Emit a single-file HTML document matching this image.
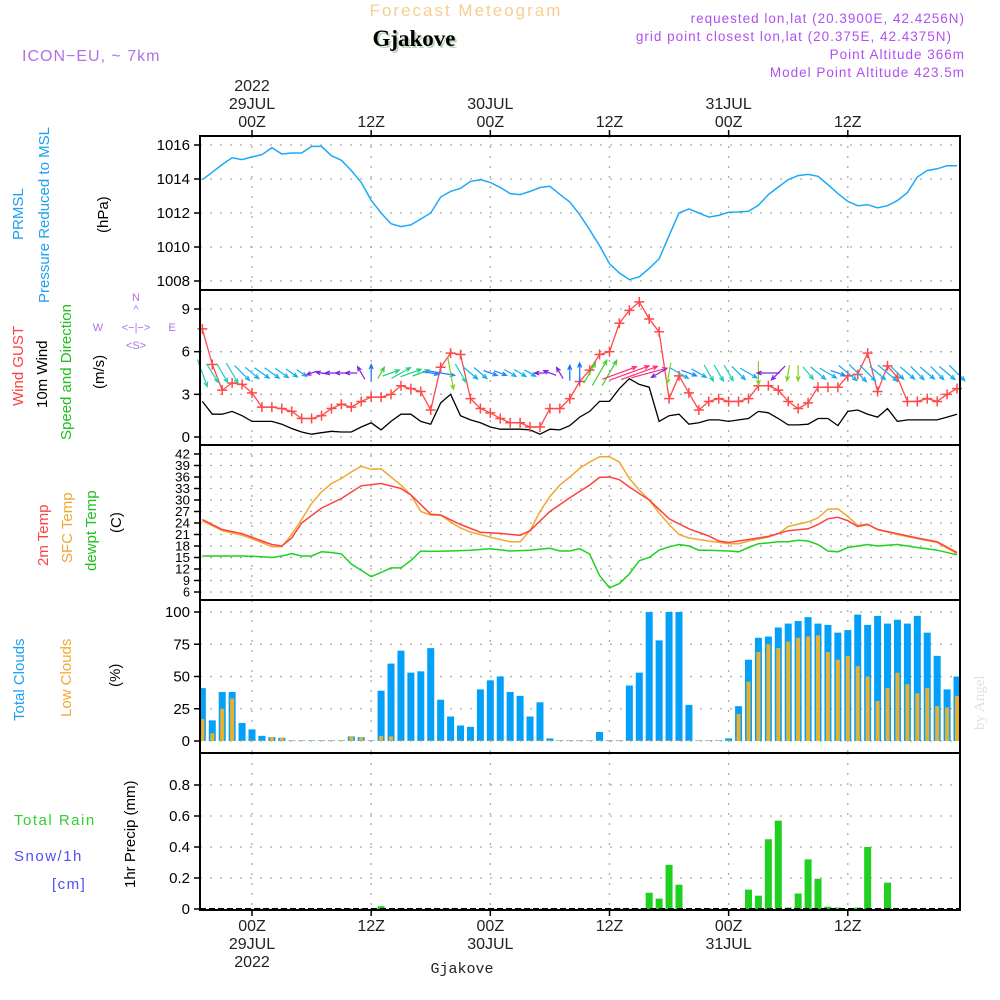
<!DOCTYPE html>
<html><head><meta charset="utf-8">
<style>
html,body{margin:0;padding:0;background:#fff;}
svg{display:block;font-family:"Liberation Sans",sans-serif;}
</style></head>
<body>
<svg id="chart" width="1000" height="1000" viewBox="0 0 1000 1000" xmlns="http://www.w3.org/2000/svg">
<g>
<text x="466" y="16" text-anchor="middle" font-size="17" fill="#f6cf90" letter-spacing="2">Forecast Meteogram</text>
<text x="416" y="48" text-anchor="middle" font-size="23" font-weight="bold" font-family="Liberation Serif,serif" fill="#bcd4bc">Gjakove</text>
<text x="414" y="46" text-anchor="middle" font-size="23" font-weight="bold" font-family="Liberation Serif,serif" fill="#000">Gjakove</text>
<text x="22" y="61" font-size="16" fill="#b070e8" letter-spacing="1">ICON−EU, ~ 7km</text>
<g font-size="13.5" fill="#b050f0" text-anchor="end" letter-spacing="1">
<text x="965" y="23">requested lon,lat (20.3900E, 42.4256N)</text>
<text x="952" y="41">grid point closest lon,lat (20.375E, 42.4375N)</text>
<text x="965" y="59">Point Altitude 366m</text>
<text x="965" y="77">Model Point Altitude 423.5m</text>
</g>
</g>
<g id="plots"></g>
<g font-size="15">
<text transform="translate(23,240) rotate(-90)" fill="#1ea0f0">PRMSL</text>
<text transform="translate(49,303) rotate(-90)" fill="#1ea0f0">Pressure Reduced to MSL</text>
<text transform="translate(108,233) rotate(-90)" fill="#000">(hPa)</text>
<text transform="translate(23,406) rotate(-90)" fill="#ff4040">Wind GUST</text>
<text transform="translate(47,408) rotate(-90)" fill="#000">10m Wind</text>
<text transform="translate(71,440) rotate(-90)" fill="#20c020">Speed and Direction</text>
<text transform="translate(104,389) rotate(-90)" fill="#000">(m/s)</text>
<g fill="#b070e8" font-size="11">
<text x="136" y="301" text-anchor="middle">N</text>
<text x="136" y="313" text-anchor="middle">^</text>
<text x="98" y="331" text-anchor="middle">W</text>
<text x="136" y="331" text-anchor="middle">&lt;−|−&gt;</text>
<text x="172" y="331" text-anchor="middle">E</text>
<text x="136" y="349" text-anchor="middle">&lt;S&gt;</text>
</g>
<text transform="translate(48,566) rotate(-90)" fill="#ff4040">2m Temp</text>
<text transform="translate(72,563) rotate(-90)" fill="#f0a830">SFC Temp</text>
<text transform="translate(96,571) rotate(-90)" fill="#20c020">dewpt Temp</text>
<text transform="translate(121,533) rotate(-90)" fill="#000">(C)</text>
<text transform="translate(24,721) rotate(-90)" fill="#1ea0f0">Total Clouds</text>
<text transform="translate(71,717) rotate(-90)" fill="#f0a830">Low Clouds</text>
<text transform="translate(120,687) rotate(-90)" fill="#000">(%)</text>
<text transform="translate(135,888) rotate(-90)" fill="#000">1hr Precip (mm)</text>
<text x="14" y="825" fill="#30d030" letter-spacing="1.5">Total  Rain</text>
<text x="14" y="861" fill="#5050f0" letter-spacing="1.5">Snow/1h</text>
<text x="52" y="889" fill="#5050f0" letter-spacing="1.5">[cm]</text>
</g>
<text transform="translate(984,730) rotate(-90)" font-size="15" font-family="Liberation Serif,serif" fill="#e0e0e0">by Angel</text>
<text x="462" y="973" text-anchor="middle" font-size="15" font-family="Liberation Mono,monospace" fill="#222">Gjakove</text>
</svg>
<script>
// ===== DATA =====
const startHour = -5;
const pressure = [1013.96,1014.4,1014.85,1015.25,1015.14,1015.3,1015.43,1015.84,1015.47,1015.53,1015.53,1015.92,1015.92,1015.37,1015.1,1014.5,1013.8,1012.75,1012.0,1011.37,1011.2,1011.3,1011.65,1012.0,1012.94,1013.27,1013.45,1013.86,1013.96,1013.8,1013.5,1013.14,1013.08,1013.27,1013.5,1013.57,1013.1,1012.65,1011.9,1011.02,1010.08,1009.02,1008.47,1008.08,1008.25,1008.75,1009.3,1010.67,1012.0,1012.24,1012.0,1011.76,1011.86,1012.04,1012.06,1012.1,1012.45,1013.08,1013.53,1013.96,1014.2,1014.27,1014.16,1013.67,1013.14,1012.69,1012.43,1012.49,1012.3,1012.43,1012.73,1013.2,1014.12,1014.5,1014.6,1014.78,1014.78];
const gust = [7.6,5.1,3.3,3.8,3.7,3.1,2.1,2.1,2.0,1.8,1.3,1.3,1.5,2.0,2.3,2.1,2.5,2.8,2.8,3.0,3.6,3.4,3.2,1.9,4.9,5.9,5.8,2.7,2.0,1.7,1.3,1.0,1.0,0.7,0.7,2.0,2.0,2.7,3.9,4.7,5.8,6.0,8.0,8.9,9.5,8.3,7.4,2.7,4.3,3.1,1.9,2.5,2.7,2.5,2.5,2.7,3.6,3.6,3.3,2.5,2.0,2.4,3.5,3.5,3.5,4.3,4.4,5.9,3.2,5.0,4.2,2.5,2.5,2.7,2.5,3.0,3.4];
const wind = [2.5,1.6,1.6,1.8,1.5,1.1,1.1,1.1,0.9,0.6,0.35,0.2,0.3,0.4,0.35,0.35,0.7,1.0,0.5,1.1,1.6,1.6,1.1,0.9,2.4,3.0,1.5,1.2,1.0,0.7,0.55,0.55,0.55,0.5,0.2,0.55,0.5,0.8,1.4,1.8,2.5,2.5,3.4,4.1,3.7,3.5,1.1,1.5,1.6,0.9,1.0,1.2,1.2,1.1,1.2,1.3,1.8,1.7,1.3,0.85,0.85,0.9,1.3,1.3,0.8,1.8,1.9,1.6,1.4,2.0,1.1,1.2,1.2,1.2,1.2,1.4,1.6];
// arrow direction (screen degrees, 0=east/right, 90=down/south), hours -5..71
const windDir = [70,58,60,60,45,40,35,35,35,35,35,160,190,180,180,180,240,270,300,340,330,340,340,10,10,80,60,40,40,20,20,30,30,30,180,200,240,270,270,300,300,300,340,340,340,345,150,100,30,20,30,60,60,60,45,30,90,180,135,100,90,50,40,30,20,40,45,45,40,40,45,40,45,40,45,40,45];
const tempHours = [-5,-3,-1,1,2,3,4,5,7,9,11,13,15,16,18,19,21,23,25,27,28,30,32,34,35,36,37,38,40,42,44,46,47,48,50,52,54,56,57,58,59,60,61,62,63,65,67,69,71];
const temp2m = [24.9,22.3,21.2,19.3,18.4,18.0,20.1,24.0,27.9,30.4,33.7,34.3,33.0,31.3,26.3,26.1,23.6,21.6,21.3,20.8,22.0,27.0,30.6,33.9,35.9,36.0,35.3,33.4,30.0,25.1,22.5,20.6,19.3,18.9,19.7,20.5,22.0,22.5,23.6,25.1,25.5,24.6,23.1,23.6,22.3,21.2,20.1,19.1,16.3];
const sfcHours = [-5,-3,-1,1,2,3,4,5,6,7,8,9,10,11,12,13,14,15,16,17,18,19,20,21,22,23,24,25,26,27,28,29,30,31,32,33,34,35,36,37,38,39,40,41,42,43,44,46,48,49,50,52,53,54,56,57,58,59,60,61,62,63,65,67,69,71];
const sfcTemp = [24.6,22.0,20.8,18.9,17.8,17.8,21.0,24.9,29.1,32.1,34.3,35.6,37.3,38.8,38.0,38.1,36.0,33.9,31.3,27.0,26.1,26.0,24.3,22.7,21.6,21.0,20.3,19.7,19.1,19.1,22.0,27.0,30.9,33.9,36.0,38.3,39.9,41.3,41.3,39.9,35.6,32.6,30.0,26.6,23.6,21.0,20.1,19.3,18.6,18.6,19.3,20.3,21.2,23.1,24.3,25.3,27.6,27.7,25.7,23.4,23.7,22.3,21.0,19.9,18.9,16.0];
const dewHours = [-5,-3,-1,1,2,3,4,5,6,7,8,9,10,12,13,14,15,16,17,18,20,22,24,26,28,30,31,32,33,34,35,36,37,38,39,40,41,42,43,44,45,46,48,49,50,51,52,53,54,55,56,57,58,59,60,61,62,63,64,65,66,67,68,69,71];
const dewTemp = [15.4,15.4,15.4,15.2,15.0,15.4,16.0,15.4,15.4,16.5,16.3,15.9,13.3,10.0,11.1,12.3,12.3,14.2,16.7,16.6,16.7,16.9,17.3,16.7,16.9,17.4,16.7,16.7,17.3,15.9,10.3,7.1,8.2,10.7,14.2,15.0,16.9,17.8,18.4,18.0,16.9,16.9,16.7,16.5,17.6,18.6,18.8,19.1,19.1,19.5,19.3,18.4,16.7,16.5,17.6,18.0,18.4,18.0,18.2,18.4,18.0,17.6,17.3,16.9,15.7];
const totalClouds = [41,16,38,38,14,9,4,3,2.5,0.5,0.5,0.5,0.5,0.5,0.5,3.6,3,0.5,39,60,70,53,54,72,32,19,12,11,40,47,50,38,35,19,30,2,0.5,0.5,0.5,0.5,7,0.5,0.5,43,53,100,78,100,100,28,0.5,0.5,0.5,2,27,63,80,81,88,91,93,96,91,90,84,86,98,90,97,91,94,91,97,84,66,40,50];
const lowClouds = [17,6,25,33,0.5,0.5,0.5,3,2.5,0.5,0.5,0.5,0.5,0.5,0.5,3.6,3,0.5,4,3.6,0.5,0.5,0.5,0.5,0.5,0.5,0.5,0.5,0.5,0.5,0.5,0.5,0.5,0.5,0.5,0.5,0.5,0.5,0.5,0.5,0.5,0.5,0.5,0.5,0.5,0.5,0.5,0.5,0.5,0.5,0.5,0.5,0.5,0.5,21,46,69,75,72,77,80,81,82,69,63,66,58,50,31,41,53,44,37,41,27,26,35];
const precip = [0,0,0,0,0,0,0,0,0,0,0,0,0,0,0,0,0,0,0.018,0,0.005,0,0,0,0,0,0,0,0,0,0,0,0,0,0,0,0,0,0,0,0,0,0,0,0.002,0.105,0.067,0.285,0.157,0,0,0,0,0,0,0.125,0.086,0.45,0.57,0.009,0.1,0.32,0.195,0.015,0.009,0,0.009,0.4,0,0.17,0,0,0,0,0,0,0];
const pressTicks = [1016,1014,1012,1010,1008];
const windTicks = [9,6,3,0];
const tempTicks = [42,39,36,33,30,27,24,21,18,15,12,9,6];
const cloudTicks = [100,75,50,25,0];
const precipTicks = [0.8,0.6,0.4,0.2,0];
const timeTicks = [0,12,24,36,48,60];
const timeZ = ["00Z","12Z","00Z","12Z","00Z","12Z"];
const timeDay = ["29JUL","","30JUL","","31JUL",""];
const timeYear = ["2022","","","","",""];

// ===== AXES =====
const L=200, R=960;
const X = h => 252 + h*9.93;
const lin = (v0,v1,p0,p1) => v => p0 + (v-v0)*(p1-p0)/(v1-v0);
const yP = lin(1016,1008,145,281);
const yW = lin(0,9,437,309);
const yT = lin(42,6,454,592);
const yC = lin(0,100,741,612);
const yR = lin(0,0.8,909,785);
const NS="http://www.w3.org/2000/svg";
const root=document.getElementById('plots');
function mk(tag,attrs,parent){const e=document.createElementNS(NS,tag);for(const k in attrs)e.setAttribute(k,attrs[k]);(parent||root).appendChild(e);return e;}
const panels=[[136,290,yP,pressTicks,'pressure'],[290,445,yW,windTicks,'wind'],[445,600,yT,tempTicks,'temperature'],[600,753,yC,cloudTicks,'clouds'],[753,910,yR,precipTicks,'precip']];
panels.forEach(p=>{
  const g=mk('g',{});
  
  
  const top=p[0],bot=p[1],ys=p[2],ticks=p[3];
  ticks.forEach(t=>{
    const y=ys(t);
    const gl=mk('line',{x1:L,x2:R,y1:y,y2:y,stroke:'#aaa','stroke-width':1.3,'stroke-dasharray':'2 8'},g);
    
    
    mk('line',{x1:L-6,x2:L,y1:y,y2:y,stroke:'#000','stroke-width':1.5},g);
    const isT = p[4]==='temperature';
    const tx=mk('text',{x:L-10,y:y+(isT?4.5:5),'text-anchor':'end','font-size':isT?12.5:15,fill:'#000'},g);
    if(isT && String(t).length>1){tx.setAttribute('textLength',15);tx.setAttribute('lengthAdjust','spacingAndGlyphs');}
    tx.textContent=String(t);
    
    
  });
  timeTicks.forEach(h=>{
    const vl=mk('line',{x1:X(h),x2:X(h),y1:top,y2:bot,stroke:'#aaa','stroke-width':1.3,'stroke-dasharray':'2 8'},g);
    
    
  });
});
// ===== SERIES =====
function line(xs,ys,color,name,w){
  const d=xs.map((x,i)=>(i?'L':'M')+x.toFixed(1)+' '+ys[i].toFixed(1)).join(' ');
  const e=mk('path',{d:d,fill:'none',stroke:color,'stroke-width':w||1.5});
  
  
  return e;
}
const hrs=n=>Array.from({length:n},(_,i)=>startHour+i);
line(hrs(pressure.length).map(X),pressure.map(yP),'#1ea8f8','pressure-line');
// clouds
totalClouds.forEach((v,i)=>{
  const x=X(startHour+i);
  const b=mk('rect',{x:Math.max(L,x-3.5),y:yC(v),width:x-3.5<L?x+3.5-L:7,height:yC(0)-yC(v),fill:'#02a0f8'});
  
  
});
lowClouds.forEach((v,i)=>{
  const x=X(startHour+i);
  const b=mk('rect',{x:Math.max(L,x-2),y:yC(v),width:x-2<L?x+2-L:4,height:yC(0)-yC(v),fill:'#e8b030'});
  
  
});
// precip
precip.forEach((v,i)=>{
  if(v<=0)return;
  const x=X(startHour+i);
  const b=mk('rect',{x:x-3.5,y:yR(v),width:7,height:yR(0)-yR(v),fill:'#20d020'});
  
  
});
mk('line',{x1:L,x2:R,y1:yR(0),y2:yR(0),stroke:'#000','stroke-width':2,'stroke-dasharray':'6 3'});
// temps
line(sfcHours.map(X),sfcTemp.map(yT),'#f0a830','sfc-temp-line');
line(tempHours.map(X),temp2m.map(yT),'#ff4040','temp-2m-line');
line(dewHours.map(X),dewTemp.map(yT),'#20d020','dewpoint-line');
// wind
line(hrs(wind.length).map(X),wind.map(yW),'#000','wind-speed-line',1.3);
line(hrs(gust.length).map(X),gust.map(yW),'#ff4848','gust-line',1.3);
gust.forEach((v,i)=>{
  const x=X(startHour+i),y=yW(v);
  const g=mk('path',{d:`M${x-5} ${y}H${x+5}M${x} ${y-5}V${y+5}`,stroke:'#ff4848','stroke-width':1.5});
  
  
});
function arrowColor(a,s){
  a=((a%360)+360)%360;
  if(a>=120&&a<250) return '#8020e0';
  if(a>=250&&a<285) return '#1070ff';
  if(a>=285&&a<320) return '#40d030';
  if(a>=320&&a<350) return s>2.5?'#ff3070':(s>1?'#20d080':'#20a0f0');
  if(a>=350||a<25) return '#2080ff';
  if(a<50) return '#10b0f0';
  if(a<75) return '#20d0b0';
  return '#80d020';
}
windDir.forEach((a,i)=>{
  const x=X(startHour+i), cy=373, len=9+wind[i]*8;
  const r=a*Math.PI/180, dx=Math.cos(r)*len, dy=Math.sin(r)*len;
  const x0=x-dx/2,y0=cy-dy/2,x1=x+dx/2,y1=cy+dy/2;
  const hl=5;
  const ax=x1-Math.cos(r-0.4)*hl, ay=y1-Math.sin(r-0.4)*hl;
  const bx=x1-Math.cos(r+0.4)*hl, by=y1-Math.sin(r+0.4)*hl;
  const c=arrowColor(a,wind[i]);
  const e=mk('path',{d:`M${x0.toFixed(1)} ${y0.toFixed(1)}L${x1.toFixed(1)} ${y1.toFixed(1)}M${ax.toFixed(1)} ${ay.toFixed(1)}L${x1.toFixed(1)} ${y1.toFixed(1)}L${bx.toFixed(1)} ${by.toFixed(1)}`,stroke:c,'stroke-width':1.2,fill:'none'});
  
  
});
// frames
panels.forEach(p=>{
  const f=mk('rect',{x:L,y:p[0],width:R-L,height:p[1]-p[0],fill:'none',stroke:'#000','stroke-width':2});
  
  
});
// time labels
timeTicks.forEach((h,i)=>{
  const x=X(h);
  mk('line',{x1:x,x2:x,y1:130,y2:136,stroke:'#000','stroke-width':1.5});
  mk('line',{x1:x,x2:x,y1:910,y2:916,stroke:'#000','stroke-width':1.5});
  [[timeZ[i],127],[timeDay[i],109],[timeYear[i],91]].forEach(([s,y])=>{
    if(!s)return;
    const t=mk('text',{x:x,y:y,'text-anchor':'middle','font-size':16,fill:'#222'});
    t.textContent=s;
    
    
  });
  [[timeZ[i],931],[timeDay[i],949],[timeYear[i],967]].forEach(([s,y])=>{
    if(!s)return;
    const t=mk('text',{x:x,y:y,'text-anchor':'middle','font-size':16,fill:'#222'});
    t.textContent=s;
    
    
  });
});
</script>
</body></html>
